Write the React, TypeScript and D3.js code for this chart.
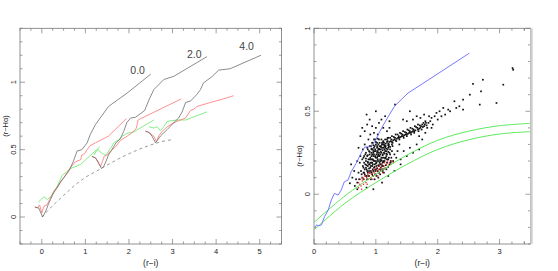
import React from "react";
import * as d3 from "d3";

type P = [number, number];

// ---------- Left panel data ----------
const trackLabels = ["0.0", "2.0", "4.0"];
const labelPos: P[] = [[2.2, 1.06], [3.5, 1.18], [4.7, 1.24]];

const black1: P[] = [[-0.16,0.074],[-0.07,0.067],[0.02,0.0],[0.085,0.04],[0.145,0.09],[0.2,0.13],[0.27,0.18],[0.35,0.215],[0.43,0.26],[0.5,0.29],[0.62,0.34],[0.72,0.41],[0.81,0.49],[0.92,0.5],[1.04,0.55],[1.11,0.61],[1.23,0.685],[1.53,0.82],[1.96,0.92],[2.5,1.06]];
const red1: P[] = [[-0.16,0.074],[-0.1,0.067],[-0.05,0.09],[0.0,0.03],[0.05,0.08],[0.12,0.09],[0.18,0.13],[0.27,0.19],[0.39,0.24],[0.5,0.29],[0.62,0.35],[0.77,0.41],[0.89,0.425],[0.92,0.46],[0.98,0.47],[1.04,0.5],[1.11,0.53],[1.23,0.55],[1.53,0.6],[1.94,0.73]];
const green1: P[] = [[-0.08,0.11],[-0.02,0.13],[0.05,0.15],[0.1,0.14],[0.13,0.13],[0.2,0.15],[0.28,0.18],[0.34,0.22],[0.4,0.26],[0.47,0.31],[0.55,0.33],[0.66,0.36],[0.89,0.39],[1.33,0.52]];

const black2: P[] = [[1.15,0.45],[1.23,0.44],[1.3,0.4],[1.37,0.36],[1.42,0.375],[1.47,0.41],[1.53,0.46],[1.61,0.5],[1.7,0.55],[1.8,0.58],[1.88,0.635],[1.95,0.7],[2.04,0.735],[2.15,0.74],[2.36,0.79],[2.46,0.87],[2.57,0.945],[2.8,1.02],[3.03,1.044],[3.79,1.19]];
const red2: P[] = [[1.15,0.45],[1.22,0.44],[1.27,0.425],[1.31,0.4],[1.35,0.375],[1.39,0.41],[1.43,0.45],[1.5,0.46],[1.58,0.49],[1.69,0.52],[1.81,0.57],[1.96,0.6],[2.05,0.62],[2.12,0.64],[2.17,0.66],[2.21,0.72],[2.27,0.73],[3.2,0.876]];
const green2: P[] = [[1.2,0.46],[1.25,0.49],[1.3,0.5],[1.35,0.48],[1.4,0.47],[1.45,0.46],[1.5,0.47],[1.55,0.5],[1.6,0.52],[1.65,0.55],[1.75,0.57],[1.85,0.6],[1.95,0.62],[2.1,0.63],[2.57,0.72]];

const black3: P[] = [[2.38,0.635],[2.45,0.63],[2.53,0.6],[2.61,0.55],[2.72,0.6],[2.88,0.65],[3.03,0.7],[3.14,0.735],[3.22,0.78],[3.3,0.85],[3.41,0.86],[3.56,0.91],[3.64,0.945],[3.71,0.995],[3.9,1.04],[4.06,1.09],[4.32,1.1],[5.03,1.2]];
const red3: P[] = [[2.38,0.64],[2.49,0.62],[2.57,0.6],[2.63,0.56],[2.68,0.6],[2.76,0.635],[2.88,0.67],[3.03,0.7],[3.18,0.72],[3.3,0.735],[3.41,0.79],[3.49,0.8],[3.56,0.82],[3.87,0.85],[4.1,0.87],[4.4,0.9]];
const green3: P[] = [[2.46,0.67],[2.57,0.66],[2.65,0.67],[2.72,0.64],[2.8,0.67],[2.88,0.71],[3.1,0.72],[3.3,0.72],[3.79,0.78]];

const dashedCurve: P[] = [[0,0],[0.25,0.085],[0.5,0.16],[0.75,0.235],[1,0.295],[1.25,0.34],[1.5,0.385],[1.75,0.43],[2,0.47],[2.25,0.505],[2.5,0.535],[2.75,0.56],[3,0.575]];

// ---------- Right panel data ----------
const blueTrack: P[] = [[0.02,-0.2],[0.04,-0.185],[0.08,-0.19],[0.12,-0.185],[0.17,-0.135],[0.23,-0.095],[0.28,-0.035],[0.33,0.005],[0.39,-0.005],[0.44,0.025],[0.49,0.075],[0.55,0.085],[0.6,0.135],[0.68,0.185],[0.76,0.245],[0.82,0.285],[0.9,0.285],[0.98,0.315],[1.06,0.375],[1.14,0.43],[1.22,0.48],[1.3,0.53],[1.41,0.57],[1.52,0.61],[1.73,0.66],[2.51,0.85]];
const greenUpper: P[] = [[0,-0.17],[0.5,-0.01],[1,0.12],[1.5,0.235],[2,0.325],[2.5,0.38],[3,0.413],[3.5,0.427]];
const greenLower: P[] = [[0,-0.215],[0.5,-0.055],[1,0.07],[1.5,0.18],[2,0.27],[2.5,0.328],[3,0.363],[3.5,0.377]];

const blackDots: P[] = [
[0.82,0.12],[0.85,0.15],[0.88,0.11],[0.9,0.18],[0.92,0.14],[0.95,0.21],[0.97,0.16],[0.99,0.12],[1.01,0.19],[1.03,0.23],[1.05,0.17],[1.07,0.21],[1.09,0.25],[1.11,0.19],[1.13,0.22],[1.15,0.26],
[0.84,0.2],[0.86,0.23],[0.89,0.26],[0.91,0.22],[0.93,0.27],[0.96,0.25],[0.98,0.29],[1.0,0.26],[1.02,0.28],[1.04,0.3],[1.06,0.27],[1.08,0.29],[1.1,0.31],[1.12,0.28],
[0.87,0.17],[0.9,0.13],[0.94,0.12],[0.97,0.2],[1.0,0.15],[1.03,0.14],[1.06,0.15],[1.09,0.18],[1.12,0.17],[1.14,0.2],[1.17,0.23],[1.19,0.27],[1.2,0.21],[1.22,0.25],[1.18,0.19],
[0.8,0.16],[0.83,0.24],[0.86,0.28],[0.95,0.31],[0.99,0.33],[1.05,0.33],[1.0,0.22],[1.02,0.2],[1.04,0.24],[0.96,0.23],[0.93,0.19],[0.91,0.16],[0.98,0.18],[1.07,0.24],[1.1,0.22],
[1.01,0.17],[0.94,0.24],[0.92,0.29],[1.13,0.25],[1.16,0.29],[0.88,0.21],[1.08,0.16],[1.11,0.15],[0.96,0.14],[0.85,0.11],[0.78,0.1],[0.8,0.22],[0.76,0.14],[0.79,0.27],[0.74,0.19],
[0.77,0.12],[0.73,0.09],[0.7,0.07],[0.68,0.09],[0.72,0.13],[0.75,0.23],[0.82,0.3],[0.88,0.33],[0.91,0.36],[0.97,0.37],[1.03,0.36],[1.25,0.22],[1.28,0.2],[1.3,0.24],[1.24,0.19],
[1.27,0.29],[1.21,0.3],[1.15,0.33],[1.33,0.22],[1.35,0.26],[1.4,0.21],[1.45,0.26],[1.38,0.3],[1.5,0.23],[1.55,0.28],[1.6,0.25],[1.66,0.3],[1.7,0.27],[1.75,0.33],
[0.84,0.16],[0.87,0.19],[0.89,0.14],[0.92,0.21],[0.94,0.17],[0.95,0.27],[0.97,0.24],[0.99,0.2],[1.01,0.24],[1.02,0.31],[1.03,0.26],[1.05,0.2],[1.06,0.29],[1.07,0.18],[1.08,0.27],
[1.09,0.22],[1.1,0.28],[1.11,0.24],[1.12,0.2],[1.14,0.27],[1.16,0.22],[1.17,0.26],[0.9,0.24],[0.93,0.25],[0.86,0.14],[0.83,0.18],[0.81,0.13],[0.98,0.26],[1.0,0.3],[1.04,0.27],
[1.1,0.3],[1.13,0.3],[1.18,0.24],[1.2,0.28],[1.23,0.27],[0.95,0.18],[1.06,0.23],[0.99,0.23],[0.91,0.19],[0.97,0.28],[1.05,0.25],[1.08,0.2],[1.02,0.22],[0.94,0.21],[0.89,0.18],
[0.8,0.09],[0.86,0.09],[0.92,0.09],[0.98,0.09],[1.04,0.1],
[0.83,0.11],[0.89,0.11],[0.95,0.11],[1.01,0.11],[1.07,0.12],[1.13,0.13],
[0.8,0.13],[0.87,0.13],[0.93,0.13],[0.99,0.14],[1.05,0.13],[1.11,0.14],[1.17,0.15],
[0.82,0.15],[0.89,0.155],[0.95,0.15],[1.02,0.155],[1.08,0.145],[1.14,0.155],[1.2,0.165],
[0.79,0.17],[0.85,0.175],[0.92,0.17],[0.98,0.165],[1.04,0.175],[1.1,0.17],[1.16,0.175],[1.22,0.18],
[0.81,0.19],[0.87,0.195],[0.94,0.19],[1.0,0.185],[1.06,0.19],[1.12,0.195],[1.18,0.21],[1.24,0.2],
[0.78,0.21],[0.84,0.215],[0.9,0.21],[0.96,0.205],[1.03,0.21],[1.09,0.205],[1.15,0.215],[1.21,0.22],
[0.81,0.23],[0.87,0.235],[0.93,0.23],[0.99,0.225],[1.05,0.23],[1.11,0.235],[1.17,0.245],[1.23,0.24],
[0.84,0.25],[0.9,0.255],[0.96,0.26],[1.02,0.25],[1.08,0.255],[1.14,0.245],[1.2,0.255],[1.26,0.26],
[0.87,0.27],[0.93,0.275],[0.99,0.27],[1.05,0.275],[1.11,0.265],[1.17,0.275],[1.23,0.285],
[0.9,0.29],[0.96,0.295],[1.02,0.29],[1.08,0.285],[1.14,0.29],[1.2,0.295],[1.26,0.3],
[0.94,0.31],[1.0,0.315],[1.06,0.31],[1.12,0.32],[1.18,0.315],
[0.97,0.33],[1.03,0.335],[1.09,0.33],[1.19,0.34],
[1.1,0.3],[1.13,0.31],[1.16,0.305],[1.19,0.32],[1.22,0.315],[1.25,0.33],[1.28,0.325],[1.31,0.34],[1.34,0.335],[1.37,0.35],[1.4,0.345],[1.43,0.36],[1.46,0.355],[1.49,0.37],
[1.52,0.365],[1.55,0.38],[1.58,0.375],[1.61,0.39],[1.64,0.385],[1.67,0.4],[1.7,0.395],[1.73,0.41],[1.76,0.405],[1.79,0.42],[1.82,0.415],[1.85,0.43],[1.2,0.34],[1.26,0.35],
[1.32,0.36],[1.38,0.33],[1.44,0.38],[1.5,0.35],[1.56,0.4],[1.62,0.37],[1.68,0.42],[1.74,0.39],[1.8,0.44],[1.15,0.28],[1.21,0.29],[1.27,0.31],[1.33,0.32],[1.39,0.37],
[1.45,0.34],[1.51,0.39],[1.57,0.36],[1.63,0.41],[1.69,0.38],[1.77,0.43],[1.83,0.4],[1.24,0.32],[1.3,0.33],[1.36,0.34],[1.42,0.35],[1.48,0.36],[1.54,0.37],[1.6,0.38],
[1.12,0.315],[1.18,0.33],[1.23,0.34],[1.29,0.345],[1.35,0.36],[1.41,0.365],[1.47,0.375],[1.53,0.385],[1.59,0.395],[1.65,0.405],[1.71,0.415],[1.75,0.42],[1.81,0.43],
[1.14,0.295],[1.2,0.305],[1.26,0.315],[1.32,0.325],[1.38,0.34],[1.44,0.35],[1.5,0.36],[1.56,0.37],[1.62,0.38],[1.68,0.39],[1.72,0.4],[1.78,0.41],
[0.7,0.2],[0.72,0.28],[0.75,0.35],[0.78,0.4],[0.82,0.38],[0.86,0.42],[0.9,0.45],[0.94,0.41],[1.0,0.4],[1.05,0.43],[1.09,0.45],[1.12,0.4],[1.18,0.38],[1.22,0.4],[1.31,0.54],
[1.44,0.45],[1.22,0.44],[0.62,0.1],[0.58,0.066],[0.66,0.05],[0.65,0.14],[0.6,0.18],[0.85,0.48],[1.0,0.5],[1.15,0.47],[1.55,0.5],[1.66,0.47],[1.5,0.44],[1.6,0.45],[1.72,0.46],
[1.78,0.48],[1.9,0.46],[1.95,0.47],[2.03,0.5],[2.09,0.52],[2.17,0.51],[2.27,0.56],[2.3,0.52],[2.41,0.57],[2.41,0.51],[2.52,0.6],[2.57,0.665],[2.68,0.54],[2.7,0.62],[2.73,0.69],
[2.95,0.55],[3.06,0.66],[3.21,0.76],[3.22,0.75],[1.88,0.44],[1.92,0.42],[2.0,0.45],[2.12,0.48],[2.2,0.5],[2.35,0.53],[1.86,0.47],[1.98,0.49],[2.06,0.47],[1.7,0.35],[1.8,0.37],
[1.9,0.4],[0.96,0.03],[0.85,0.04],[1.1,0.07],[1.2,0.11],[1.3,0.14],[1.4,0.18],[0.7,0.03]
];

const redDots: P[] = [
[0.72,0.04],[0.72,0.07],[0.74,0.06],[0.75,0.09],[0.76,0.05],[0.78,0.08],[0.79,0.1],[0.8,0.06],[0.81,0.09],[0.83,0.11],[0.84,0.07],[0.85,0.1],[0.87,0.12],[0.88,0.09],[0.89,0.11],
[0.9,0.13],[0.92,0.1],[0.93,0.12],[0.94,0.14],[0.96,0.11],[0.97,0.13],[0.98,0.15],[1.0,0.12],[1.01,0.14],[1.02,0.16],[1.04,0.13],[1.05,0.15],[1.06,0.17],[1.08,0.14],[1.09,0.16],
[1.1,0.18],[1.12,0.15],[1.13,0.17],[1.14,0.19],[1.16,0.16],[1.17,0.18],[1.19,0.2],[1.2,0.17],[1.22,0.19],[1.24,0.18],[1.26,0.2],[1.28,0.19],[0.77,0.03],[0.86,0.06],[0.95,0.09],
[1.03,0.11],[1.11,0.13]
];

// ---------- Axis ticks ----------
const leftXTicks = [0, 1, 2, 3, 4, 5];
const leftYTicks = [0, 0.5, 1];
const rightXTicks = [0, 1, 2, 3];
const rightYTicks = [0, 0.5, 1];

const FONT = "'Liberation Sans', Arial, sans-serif";
const FRAME = "#777";
const TXT = "#222";

function range(a: number, b: number, s: number) {
  const out: number[] = [];
  for (let v = a; v <= b + 1e-9; v += s) out.push(+v.toFixed(4));
  return out;
}

function Frame({ x, y, xMinor, yMinor, xMajor, yMajor, xFmt, yFmt, yLabelX, yLabelY, tickLabelX }: any) {
  const [x0, x1] = x.range();
  const [y0, y1] = y.range();
  const maj = 5, mn = 2.5;
  const els: any[] = [];
  xMinor.forEach((v: number, i: number) => {
    const px = x(v);
    const L = xMajor.includes(v) ? maj : mn;
    els.push(<line key={"xb" + i} x1={px} x2={px} y1={y0} y2={y0 - L} stroke={FRAME} strokeWidth={0.7} />);
    els.push(<line key={"xt" + i} x1={px} x2={px} y1={y1} y2={y1 + L} stroke={FRAME} strokeWidth={0.7} />);
  });
  yMinor.forEach((v: number, i: number) => {
    const py = y(v);
    const L = yMajor.includes(v) ? maj : mn;
    els.push(<line key={"yl" + i} x1={x0} x2={x0 + L} y1={py} y2={py} stroke={FRAME} strokeWidth={0.7} />);
    els.push(<line key={"yr" + i} x1={x1} x2={x1 - L} y1={py} y2={py} stroke={FRAME} strokeWidth={0.7} />);
  });
  xMajor.forEach((v: number, i: number) => {
    els.push(<text key={"xl" + i} x={x(v)} y={y0 + 9.5} fontSize={7.5} textAnchor="middle" fill={TXT} fontFamily={FONT}>{xFmt(v)}</text>);
  });
  yMajor.forEach((v: number, i: number) => {
    els.push(<text key={"ylb" + i} transform={`translate(${tickLabelX},${y(v)}) rotate(-90)`} fontSize={7.5} textAnchor="middle" fill={TXT} fontFamily={FONT}>{yFmt(v)}</text>);
  });
  return (
    <g>
      <rect x={x0} y={y1} width={x1 - x0} height={y0 - y1} fill="none" stroke={FRAME} strokeWidth={0.8} />
      {els}
      <text x={(x0 + x1) / 2} y={y0 + 22} fontSize={8.5} textAnchor="middle" fill={TXT} fontFamily={FONT}>(r−i)</text>
      <text transform={`translate(${yLabelX},${yLabelY}) rotate(-90)`} fontSize={7.5} textAnchor="middle" fill={TXT} fontFamily={FONT}>(r−Hα)</text>
    </g>
  );
}

export default function App() {
  const lx = d3.scaleLinear().domain([-0.5, 5.5]).range([20, 281.5]);
  const ly = d3.scaleLinear().domain([-0.2, 1.4]).range([244, 28.3]);
  const lline = d3.line<P>().x((d) => lx(d[0])).y((d) => ly(d[1]));
  const rx = d3.scaleLinear().domain([0, 3.5]).range([314, 530.5]);
  const ry = d3.scaleLinear().domain([-0.3, 1]).range([244, 28.3]);
  const rline = d3.line<P>().x((d) => rx(d[0])).y((d) => ry(d[1]));
  const rcurve = d3.line<P>().x((d) => rx(d[0])).y((d) => ry(d[1])).curve(d3.curveCatmullRom);

  const fmt = (v: number) => (v === 0 ? "0" : String(v));
  const BL = "#666", RD = "#ff6b6b", GR = "#5ee85e";

  return (
    <svg width={558} height={271} style={{ position: "absolute", left: 0, top: 0, background: "#fff" }}>
      <rect width={558} height={271} fill="#fff" />
      <Frame x={lx} y={ly} xMinor={range(-0.5, 5.5, 0.25)} yMinor={range(-0.2, 1.4, 0.1)} xMajor={leftXTicks} yMajor={leftYTicks}
        xFmt={fmt} yFmt={fmt} yLabelX={8} yLabelY={126} tickLabelX={16} />
      <defs>
        <clipPath id="lclip"><rect x={20} y={28.3} width={261.5} height={215.7} /></clipPath>
        <clipPath id="rclip"><rect x={314} y={28.3} width={216.5} height={215.7} /></clipPath>
      </defs>
      <g clipPath="url(#lclip)" fill="none" strokeWidth={0.75}>
        <path d={lline(dashedCurve)!} stroke="#777" strokeDasharray="3,3" />
        {[green1, green2, green3].map((d, i) => <path key={"g" + i} d={lline(d)!} stroke={GR} />)}
        {[red1, red2, red3].map((d, i) => <path key={"r" + i} d={lline(d)!} stroke={RD} />)}
        {[black1, black2, black3].map((d, i) => <path key={"b" + i} d={lline(d)!} stroke={BL} />)}
      </g>
      {trackLabels.map((t, i) => (
        <text key={t} x={lx(labelPos[i][0])} y={ly(labelPos[i][1])} fontSize={10.5} textAnchor="middle" fill="#444" fontFamily={FONT}>{t}</text>
      ))}

      <Frame x={rx} y={ry} xMinor={range(0, 3.5, 0.2).concat([3.4])} yMinor={range(-0.3, 1, 0.1)} xMajor={rightXTicks} yMajor={rightYTicks}
        xFmt={fmt} yFmt={fmt} yLabelX={302} yLabelY={156} tickLabelX={310} />
      <line x1={531.5} x2={531.5} y1={28.3} y2={244} stroke="#d0d0d0" strokeWidth={2.5} />
      <g clipPath="url(#rclip)">
        {blackDots.map((d, i) => <rect key={"k" + i} x={rx(d[0]) - 0.85} y={ry(d[1]) - 0.85} width={1.7} height={1.7} fill="#111" />)}
        {redDots.map((d, i) => <rect key={"rd" + i} x={rx(d[0]) - 0.65} y={ry(d[1]) - 0.65} width={1.3} height={1.3} fill="#e22" />)}
        <path d={rcurve(greenUpper)!} stroke={GR} strokeWidth={1} fill="none" />
        <path d={rcurve(greenLower)!} stroke={GR} strokeWidth={1} fill="none" />
        <path d={rline(blueTrack)!} stroke="#6a6aff" strokeWidth={0.9} fill="none" />
      </g>
    </svg>
  );
}
